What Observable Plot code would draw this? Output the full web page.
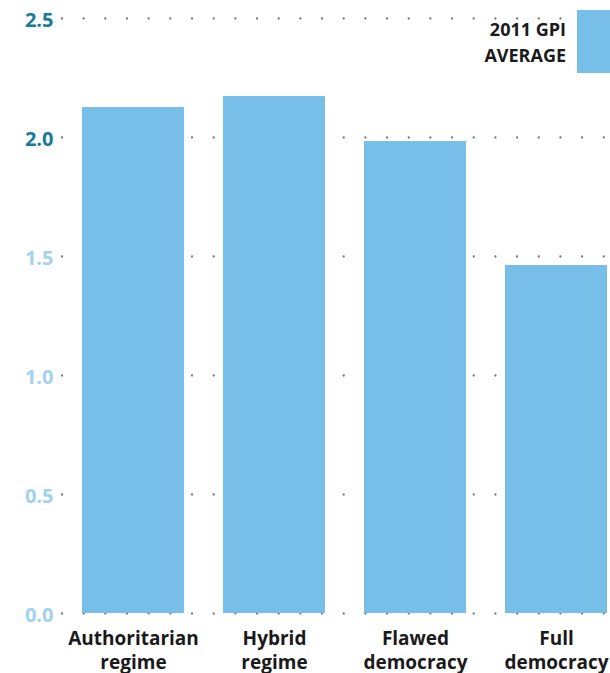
<!DOCTYPE html>
<html>
<head>
<meta charset="utf-8">
<script src="https://cdn.jsdelivr.net/npm/d3@7"></script>
<script src="https://cdn.jsdelivr.net/npm/@observablehq/plot@0.6"></script>
<style>
  html, body { margin: 0; padding: 0; background: #fff; }
  #wrap { position: relative; width: 610px; height: 673px; font-family: "Open Sans", "Noto Sans", sans-serif; }
  #legend { position: absolute; right: 0; top: 10px; display: flex; align-items: flex-start; }
  #legend .lbl { text-align: right; font-weight: bold; font-size: 18px; line-height: 26px; color: #1a1a1a; margin-right: 11px; margin-top: 6px; }
  #legend .sw { width: 33px; height: 63px; background: #77bee9; }
</style>
</head>
<body>
<div id="wrap"><div id="legend"><div class="lbl">2011 GPI<br>AVERAGE</div><div class="sw"></div></div></div>
<script>
const categories = ["Authoritarian\nregime", "Hybrid\nregime", "Flawed\ndemocracy", "Full\ndemocracy"];
const values = [2.126, 2.172, 1.983, 1.462];
const yTicks = [0, 0.5, 1.0, 1.5, 2.0, 2.5];
const seriesName = "2011 GPI AVERAGE";

const data = categories.map((c, i) => ({category: c, value: values[i]}));
const barColor = "#77bee9";
const tealTick = "#17799b";
const lightTick = "#a2d1f1";

const chart = Plot.plot({
  width: 610,
  height: 673,
  marginTop: 18,
  marginBottom: 60,
  marginLeft: 82,
  marginRight: 3,
  style: {fontFamily: "'Open Sans', 'Noto Sans', sans-serif", background: "transparent"},
  x: {domain: categories, padding: 0.277, paddingOuter: 0, label: null},
  y: {domain: [0, 2.5], label: null, axis: null},
  marks: [
    Plot.ruleY(yTicks, {y: d => d, stroke: "#777", strokeWidth: 2.3, strokeDasharray: "0,21.67", strokeLinecap: "round", insetLeft: -20, insetRight: -3}),
    Plot.barY(data, {x: "category", y: "value", fill: barColor}),
    Plot.text(yTicks, {y: d => d, frameAnchor: "left", dx: -29, dy: 2, textAnchor: "end", text: d => d.toFixed(1), fill: d => d >= 2 ? tealTick : lightTick, fontSize: 20, fontWeight: "bold"}),
    Plot.axisX({tickSize: 0, tickPadding: 14, fontSize: 19, fontWeight: "bold", fill: "#1a1a1a", lineHeight: 1.27, label: null})
  ]
});
document.getElementById("wrap").prepend(chart);
</script>
</body>
</html>
